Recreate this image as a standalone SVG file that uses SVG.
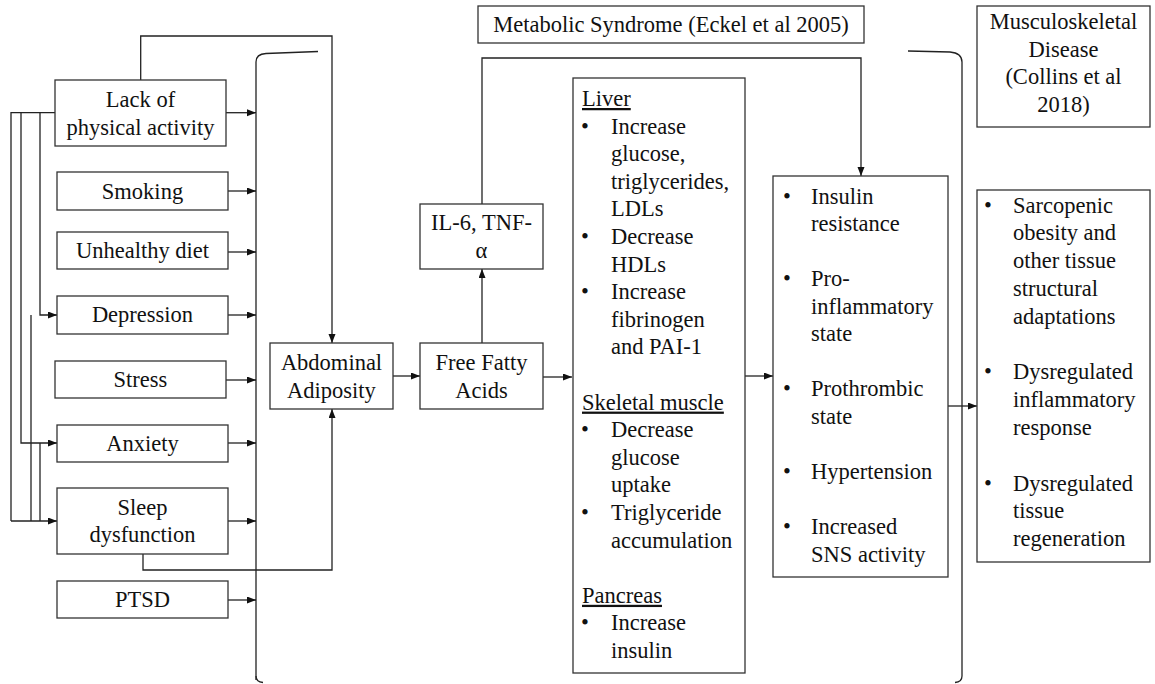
<svg xmlns="http://www.w3.org/2000/svg" width="1155" height="684" viewBox="0 0 1155 684">
<defs>
<marker id="ah" markerUnits="userSpaceOnUse" markerWidth="10" markerHeight="8" refX="9" refY="3.5" orient="auto">
<path d="M0,0 L9,3.5 L0,7 z" fill="#111"/>
</marker>
</defs>
<rect width="1155" height="684" fill="#fff"/>

<g id="connectors" fill="none" stroke="#222" stroke-width="1.3">
<path d="M256,680 L256,62 Q256,54 266,53.5 L318,51.5"/>
<path d="M256,676 Q256,682 263,682.5"/>
<path d="M908,51 L950,52 Q962,53 962,62 L962,676 Q962,682 955,682.5"/>
<path d="M55,112.7 L11,112.7 L11,521"/>
<path d="M31,315 L31,521"/>
<path d="M40,443 L40,521"/>
<g marker-end="url(#ah)">
<path d="M11,521 L57,521"/>
<path d="M21,112.7 L21,443 L57,443"/>
<path d="M40,112.7 L40,315 L57,315"/>
<path d="M226,112.7 L256,112.7"/>
<path d="M228,191 L256,191"/>
<path d="M228,252 L256,252"/>
<path d="M228,315 L256,315"/>
<path d="M226,380 L256,380"/>
<path d="M228,443 L256,443"/>
<path d="M228,521 L256,521"/>
<path d="M228,600 L256,600"/>
<path d="M140.7,80 L140.7,36 L332,36 L332,343"/>
<path d="M143,554 L143,570 L332,570 L332,409"/>
<path d="M393,376 L420,376"/>
<path d="M482,343 L482,269"/>
<path d="M482,204 L482,58 L861,58 L861,176"/>
<path d="M543,377 L572,377"/>
<path d="M745,376 L773,376"/>
<path d="M948,406 L977,406"/>
</g>
</g>

<g font-family="Liberation Serif" font-size="22.5" fill="#111">
<g id="lack">
<rect x="55" y="80" width="171" height="66" fill="#fff" stroke="#333" stroke-width="1.3"/>
<text text-anchor="middle" x="140.5" y="107">Lack of</text>
<text text-anchor="middle" x="140.5" y="135">physical activity</text>
</g>
<g id="smoking">
<rect x="57" y="172" width="171" height="38" fill="#fff" stroke="#333" stroke-width="1.3"/>
<text text-anchor="middle" x="142.5" y="198.5">Smoking</text>
</g>
<g id="diet">
<rect x="57" y="232" width="171" height="37" fill="#fff" stroke="#333" stroke-width="1.3"/>
<text text-anchor="middle" x="142.5" y="258">Unhealthy diet</text>
</g>
<g id="depression">
<rect x="57" y="296" width="171" height="38" fill="#fff" stroke="#333" stroke-width="1.3"/>
<text text-anchor="middle" x="142.5" y="322">Depression</text>
</g>
<g id="stress">
<rect x="55" y="361" width="171" height="37" fill="#fff" stroke="#333" stroke-width="1.3"/>
<text text-anchor="middle" x="140.5" y="387">Stress</text>
</g>
<g id="anxiety">
<rect x="57" y="425" width="171" height="37" fill="#fff" stroke="#333" stroke-width="1.3"/>
<text text-anchor="middle" x="142.5" y="451">Anxiety</text>
</g>
<g id="sleep">
<rect x="57" y="488" width="171" height="66" fill="#fff" stroke="#333" stroke-width="1.3"/>
<text text-anchor="middle" x="142.5" y="515">Sleep</text>
<text text-anchor="middle" x="142.5" y="542">dysfunction</text>
</g>
<g id="ptsd">
<rect x="57" y="581" width="171" height="37" fill="#fff" stroke="#333" stroke-width="1.3"/>
<text text-anchor="middle" x="142.5" y="607">PTSD</text>
</g>

<g id="abdominal">
<rect x="270" y="343" width="123" height="66" fill="#fff" stroke="#333" stroke-width="1.3"/>
<text text-anchor="middle" x="331.5" y="370">Abdominal</text>
<text text-anchor="middle" x="331.5" y="398">Adiposity</text>
</g>
<g id="ffa">
<rect x="420" y="343" width="123" height="66" fill="#fff" stroke="#333" stroke-width="1.3"/>
<text text-anchor="middle" x="481.5" y="370">Free Fatty</text>
<text text-anchor="middle" x="481.5" y="398">Acids</text>
</g>
<g id="il6">
<rect x="420" y="204" width="123" height="65" fill="#fff" stroke="#333" stroke-width="1.3"/>
<text text-anchor="middle" x="481.5" y="230">IL-6, TNF-</text>
<text text-anchor="middle" x="481.5" y="258">α</text>
</g>

<g id="metabolic-title">
<rect x="478" y="6" width="386" height="37" fill="#fff" stroke="#333" stroke-width="1.3"/>
<text text-anchor="middle" x="671" y="32">Metabolic Syndrome (Eckel et al 2005)</text>
</g>

<g id="organs">
<rect x="573" y="78" width="172" height="595" fill="#fff" stroke="#333" stroke-width="1.3"/>
<text text-decoration="underline" x="582" y="106">Liver</text>
<text x="581" y="133.6">•</text><text x="611" y="133.6">Increase</text>
<text x="611" y="161.2">glucose,</text>
<text x="611" y="188.8">triglycerides,</text>
<text x="611" y="216.4">LDLs</text>
<text x="581" y="244">•</text><text x="611" y="244">Decrease</text>
<text x="611" y="271.6">HDLs</text>
<text x="581" y="299.2">•</text><text x="611" y="299.2">Increase</text>
<text x="611" y="326.8">fibrinogen</text>
<text x="611" y="354.4">and PAI-1</text>
<text text-decoration="underline" x="582" y="409.6">Skeletal muscle</text>
<text x="581" y="437.2">•</text><text x="611" y="437.2">Decrease</text>
<text x="611" y="464.8">glucose</text>
<text x="611" y="492.4">uptake</text>
<text x="581" y="520">•</text><text x="611" y="520">Triglyceride</text>
<text x="611" y="547.6">accumulation</text>
<text text-decoration="underline" x="582" y="602.8">Pancreas</text>
<text x="581" y="630.4">•</text><text x="611" y="630.4">Increase</text>
<text x="611" y="658">insulin</text>
</g>

<g id="features">
<rect x="773" y="176" width="175" height="401" fill="#fff" stroke="#333" stroke-width="1.3"/>
<text x="783" y="203.5">•</text><text x="811" y="203.5">Insulin</text>
<text x="811" y="231">resistance</text>
<text x="783" y="286">•</text><text x="811" y="286">Pro-</text>
<text x="811" y="313.6">inflammatory</text>
<text x="811" y="341.2">state</text>
<text x="783" y="396.4">•</text><text x="811" y="396.4">Prothrombic</text>
<text x="811" y="424">state</text>
<text x="783" y="479">•</text><text x="811" y="479">Hypertension</text>
<text x="783" y="534.4">•</text><text x="811" y="534.4">Increased</text>
<text x="811" y="562">SNS activity</text>
</g>

<g id="msk-title">
<rect x="977" y="6" width="173" height="121" fill="#fff" stroke="#333" stroke-width="1.3"/>
<text text-anchor="middle" x="1063.5" y="29">Musculoskeletal</text>
<text text-anchor="middle" x="1063.5" y="56.5">Disease</text>
<text text-anchor="middle" x="1063.5" y="84">(Collins et al</text>
<text text-anchor="middle" x="1063.5" y="111.5">2018)</text>
</g>

<g id="msk">
<rect x="977" y="190" width="173" height="372" fill="#fff" stroke="#333" stroke-width="1.3"/>
<text x="984" y="212.5">•</text><text x="1013" y="212.5">Sarcopenic</text>
<text x="1013" y="240.3">obesity and</text>
<text x="1013" y="268.1">other tissue</text>
<text x="1013" y="295.9">structural</text>
<text x="1013" y="323.7">adaptations</text>
<text x="984" y="379.3">•</text><text x="1013" y="379.3">Dysregulated</text>
<text x="1013" y="407.1">inflammatory</text>
<text x="1013" y="434.9">response</text>
<text x="984" y="490.5">•</text><text x="1013" y="490.5">Dysregulated</text>
<text x="1013" y="518.3">tissue</text>
<text x="1013" y="546.1">regeneration</text>
</g>
</g>
</svg>
